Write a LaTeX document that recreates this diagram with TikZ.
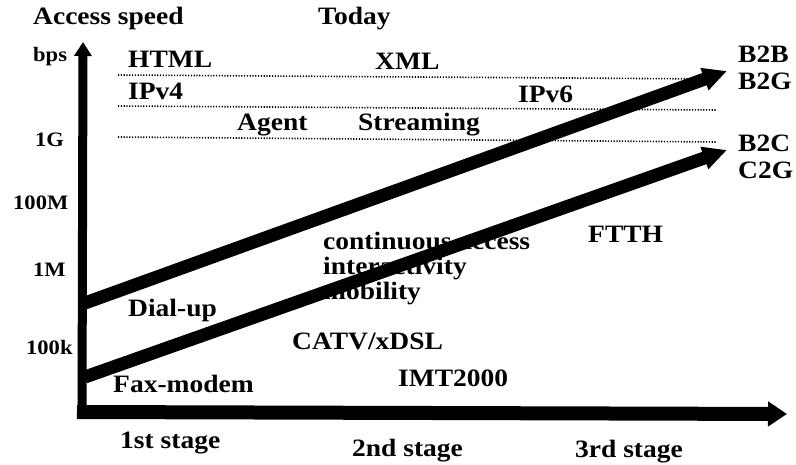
\documentclass[tikz,border=0pt]{standalone}
\usepackage{fontspec}
\setmainfont{Liberation Serif}[FakeStretch=1.1]
\usetikzlibrary{arrows.meta}
\begin{document}
\begin{tikzpicture}[x=1pt,y=-1pt,
  lbl/.style={anchor=base west, inner sep=0pt, font=\fontsize{25}{27}\selectfont\bfseries},
  axl/.style={anchor=base west, inner sep=0pt, font=\fontsize{20.5}{22}\selectfont\bfseries},
  dotline/.style={line width=1.6pt, dash pattern=on 1.2pt off 1.6pt},
  fat/.style={line width=13pt, -{Triangle[length=24pt,width=22pt]}},
  axis/.style={line width=#1}]
\useasboundingbox (0,0) rectangle (796,465);
% labels
\node[lbl] (access) at (33,25) {Access speed};
\node[lbl] (today) at (318,25) {Today};
\node[axl] (bps) at (33,62) {bps};
\node[lbl] (html) at (128,68) {HTML};
\node[lbl] (xml) at (375,70) {XML};
\node[lbl] (ipv4) at (128,100) {IPv4};
\node[lbl] (ipv6) at (518,103) {IPv6};
\node[lbl] (agent) at (237,131) {Agent};
\node[lbl] (stream) at (358,131) {Streaming};
\node[axl] (g1) at (35,147) {1G};
\node[lbl] (b2b) at (738,63) {B2B};
\node[lbl] (b2g) at (738,90) {B2G};
\node[lbl] (b2c) at (738,152) {B2C};
\node[lbl] (c2g) at (738,179) {C2G};
\node[axl] (m100) at (13,210) {100M};
\node[axl] (m1) at (33,277) {1M};
\node[axl] (k100) at (26,355) {100k};
\node[lbl] (ftth) at (588,243) {FTTH};
\node[lbl] (cont) at (323,250) {continuous access};
\node[lbl] (inter) at (323,275) {interactivity};
\node[lbl] (mob) at (323,300) {mobility};
\node[lbl] (dial) at (128,317) {Dial-up};
\node[lbl] (catv) at (292,350) {CATV/xDSL};
\node[lbl] (fax) at (113,392) {Fax-modem};
\node[lbl] (imt) at (398,387) {IMT2000};
\node[lbl] (s1) at (120,448) {1st stage};
\node[lbl] (s2) at (352,456) {2nd stage};
\node[lbl] (s3) at (575,457) {3rd stage};
% coordinates
\coordinate (d1a) at (118,75);  \coordinate (d1b) at (717,79);
\coordinate (d2a) at (118,106); \coordinate (d2b) at (717,110);
\coordinate (d3a) at (118,137); \coordinate (d3b) at (717,142);
\coordinate (ya) at (82,418); \coordinate (yb) at (83,42);
\coordinate (xa) at (77,412); \coordinate (xb) at (787,414);
\coordinate (ua) at (85,303); \coordinate (ub) at (727,71);
\coordinate (la) at (85,377); \coordinate (lb) at (727,150);
% dotted lines
\draw[dotline] (d1a) -- (d1b);
\draw[dotline] (d2a) -- (d2b);
\draw[dotline] (d3a) -- (d3b);
% axes
\draw[axis=9pt, -{Triangle[length=14pt,width=17pt]}] (ya) -- (yb);
\draw[axis=14pt, -{Triangle[length=19pt,width=24pt]}] (xa) -- (xb);
% trend arrows
\draw[fat] (ua) -- (ub);
\draw[fat] (la) -- (lb);
\end{tikzpicture}
\end{document}
